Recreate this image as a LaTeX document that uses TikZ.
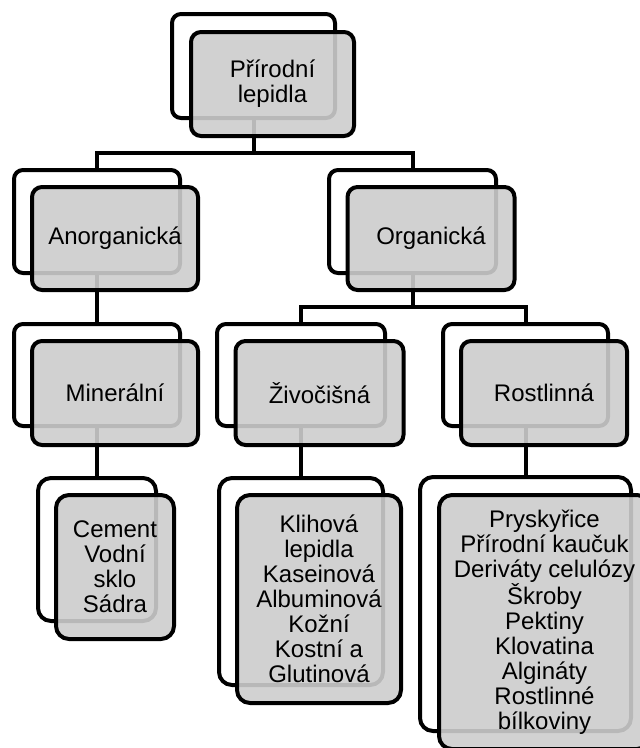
\documentclass[tikz,border=0pt]{standalone}
\usepackage{fontspec}
\setmainfont{Liberation Sans}
\definecolor{boxgray}{RGB}{205,205,205}
\tikzset{
  backbox/.style={draw=black, line width=4pt, fill=white, rounded corners=9pt, inner sep=0pt, outer sep=0pt},
  frontbox/.style={draw=black, line width=4pt, fill=boxgray, fill opacity=0.9, text opacity=1, rounded corners=10pt, inner sep=0pt, outer sep=0pt, align=center, font=\fontsize{24}{25}\selectfont},
  tall/.style={rounded corners=13pt},
  conn/.style={draw=black, line width=4pt}
}
\begin{document}
\begin{tikzpicture}[x=1pt,y=-1pt]
\useasboundingbox (0,0) rectangle (640,748);
% back boxes
\node[backbox, minimum width=163pt, minimum height=104pt] (bT) at (253.5,66) {};
\node[backbox, minimum width=166pt, minimum height=103pt] (bA) at (97,221.5) {};
\node[backbox, minimum width=167pt, minimum height=103pt] (bO) at (412.5,221.5) {};
\node[backbox, minimum width=166pt, minimum height=102pt] (bM) at (97,375) {};
\node[backbox, minimum width=168pt, minimum height=102pt] (bZ) at (301,375) {};
\node[backbox, minimum width=165pt, minimum height=102pt] (bR) at (525.5,375) {};
\node[backbox, tall, minimum width=118pt, minimum height=143pt] (bC) at (97,549.5) {};
\node[backbox, tall, minimum width=164pt, minimum height=207pt] (bK) at (301,581.5) {};
\node[backbox, tall, minimum width=211pt, minimum height=254pt] (bP) at (525.5,604) {};
% connectors
\coordinate (j1) at (253.5,153);
\coordinate (j2) at (412.5,307);
\draw[conn] (bT.south) -- (j1);
\draw[conn] (bA.north) |- (j1) -| (bO.north);
\draw[conn] (bO.south) -- (j2);
\draw[conn] (bZ.north) |- (j2) -| (bR.north);
\draw[conn] (bA.south) -- (bM.north);
\draw[conn] (bM.south) -- (bC.north);
\draw[conn] (bZ.south) -- (bK.north);
\draw[conn] (bR.south) -- (bP.north);
% front boxes
\node[frontbox, minimum width=163pt, minimum height=104pt] (fT) at (272.5,84) {Přírodní\\lepidla};
\node[frontbox, minimum width=166pt, minimum height=103pt] (fA) at (115,238.5) {Anorganická};
\node[frontbox, minimum width=167pt, minimum height=103pt] (fO) at (431,238.5) {Organická};
\node[frontbox, minimum width=166pt, minimum height=104pt] (fM) at (115,393) {Minerální};
\node[frontbox, minimum width=168pt, minimum height=104pt] (fZ) at (319.5,393) {Živočišná};
\node[frontbox, minimum width=166pt, minimum height=104pt] (fR) at (544,393) {Rostlinná};
\node[frontbox, tall, minimum width=118pt, minimum height=144pt] (fC) at (115,567) {Cement\\Vodní\\sklo\\Sádra};
\node[frontbox, tall, minimum width=164pt, minimum height=208pt] (fK) at (319,599) {Klihová\\lepidla\\Kaseinová\\Albuminová\\Kožní\\Kostní a\\Glutinová};
\node[frontbox, tall, minimum width=211pt, minimum height=254pt] (fP) at (544.5,622) {Pryskyřice\\Přírodní kaučuk\\Deriváty celulózy\\Škroby\\Pektiny\\Klovatina\\Algináty\\Rostlinné\\bílkoviny};
\end{tikzpicture}
\end{document}
